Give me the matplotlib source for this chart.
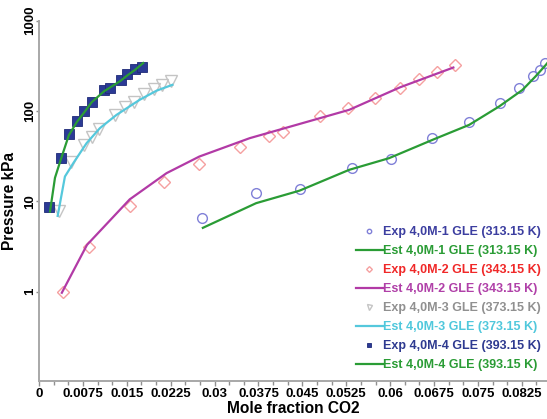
import matplotlib
matplotlib.use("Agg")
import matplotlib.pyplot as plt
from matplotlib.ticker import MultipleLocator, FixedLocator

plt.rcParams['font.family'] = ['Liberation Sans', 'DejaVu Sans']
plt.rcParams['font.weight'] = 'bold'

# experimental points, 4,0M GLE
x_exp1 = [0.0278, 0.0371, 0.0446, 0.0534, 0.0601, 0.0671, 0.0734, 0.0787, 0.0820, 0.0844, 0.0856, 0.0864]
p_exp1 = [6.55, 12.5, 13.7, 23.6, 29.3, 50.0, 76.3, 124, 179, 242, 285, 344]

x_exp2 = [0.00404, 0.00852, 0.0155, 0.02136, 0.0273, 0.03426, 0.03938, 0.04164, 0.0480,
          0.05273, 0.05744, 0.0617, 0.06494, 0.06807, 0.07103]
p_exp2 = [1.0, 3.15, 8.9, 16.5, 25.8, 40.3, 53.0, 59.1, 88.9, 107, 141, 179, 225, 273, 324]

x_exp3 = [0.00341, 0.0054, 0.00772, 0.00909, 0.01028, 0.0130, 0.01466, 0.01624, 0.01795,
          0.0196, 0.0211, 0.0226]
p_exp3 = [7.89, 27.1, 41.8, 51.3, 62.9, 90.5, 112, 127, 155, 174, 195, 214]

x_exp4 = [0.00176, 0.00375, 0.00511, 0.00653, 0.00767, 0.00903, 0.01113, 0.0121, 0.01393,
          0.01512, 0.01636, 0.01761]
p_exp4 = [8.6, 30.0, 55.8, 78.3, 100, 127, 171, 179, 221, 258, 290, 310]

# estimated curves
x_est1 = [0.0280, 0.0371, 0.0445, 0.0530, 0.0598, 0.0675, 0.0735, 0.0786, 0.0826, 0.0848, 0.0866, 0.0880]
p_est1 = [5.08, 9.53, 13.1, 22.3, 30.0, 48.7, 70.2, 112, 171, 240, 324, 420]

x_est2 = [0.0039, 0.0082, 0.0155, 0.0218, 0.0274, 0.0360, 0.0530, 0.0617, 0.0708]
p_est2 = [0.97, 3.29, 10.5, 20.5, 31.3, 50.0, 103, 183, 303]

x_est3 = [0.00319, 0.00443, 0.00585, 0.00813, 0.0104, 0.01324, 0.0172, 0.0201, 0.0228]
p_est3 = [6.89, 18.8, 26.4, 44.0, 64.5, 90.5, 133, 168, 195]

x_est4 = [0.00188, 0.00273, 0.0038, 0.0051, 0.0065, 0.0077, 0.0090, 0.0111, 0.0139, 0.0151, 0.0164, 0.0178]
p_est4 = [7.69, 18.2, 30.0, 54.0, 76.0, 96.0, 125, 165, 215, 248, 285, 340]

x_ticks = [0, 0.0075, 0.015, 0.0225, 0.03, 0.0375, 0.045, 0.0525, 0.06, 0.0675, 0.075, 0.0825]
x_labels = ['0', '0.0075', '0.015', '0.0225', '0.03', '0.0375', '0.045', '0.0525', '0.06',
            '0.0675', '0.075', '0.0825']
y_ticks = [1, 10, 100, 1000]
y_labels = ['1', '10', '100', '1000']

green = '#2a9c35'
magenta = '#b23aa6'
cyan = '#55c8dc'

fig = plt.figure(figsize=(5.47, 4.19), dpi=100)
ax = fig.add_axes([39 / 547, 1 - 380.7 / 419, 1 - 39 / 547, (380.7 - 20.7) / 419])

ax.plot(x_exp1, p_exp1, 'o', ms=7, mfc='none', mec='#8080d8', mew=1.0,
        label='Exp 4,0M-1 GLE (313.15 K)')
ax.plot(x_est1, p_est1, '-', color=green, lw=1.6, label='Est 4,0M-1 GLE (313.15 K)')
ax.plot(x_exp2, p_exp2, 'D', ms=6.5, mfc='none', mec='#f5a0a0', mew=1.0,
        label='Exp 4,0M-2 GLE (343.15 K)')
ax.plot(x_est2, p_est2, '-', color=magenta, lw=1.6, label='Est 4,0M-2 GLE (343.15 K)')
ax.plot(x_exp3, p_exp3, 'v', ms=8, mfc='none', mec='#c4c4c4', mew=1.0,
        label='Exp 4,0M-3 GLE (373.15 K)')
ax.plot(x_est3, p_est3, '-', color=cyan, lw=1.6, label='Est 4,0M-3 GLE (373.15 K)')
ax.plot(x_exp4, p_exp4, 's', ms=7.5, mfc='#2b3a95', mec='#1e2a78', mew=0.6,
        label='Exp 4,0M-4 GLE (393.15 K)')
ax.plot(x_est4, p_est4, '-', color=green, lw=1.6, label='Est 4,0M-4 GLE (393.15 K)')

ax.set_yscale('log')
ax.set_xlim(0, 0.0868)
ax.set_ylim(0.103, 1000)

ax.xaxis.set_major_locator(FixedLocator(x_ticks))
ax.set_xticklabels(x_labels)
ax.xaxis.set_minor_locator(MultipleLocator(0.0025))
ax.yaxis.set_major_locator(FixedLocator(y_ticks))
ax.set_yticklabels(y_labels, rotation=90, va='center')
ax.yaxis.set_minor_locator(FixedLocator([]))

for side in ['top', 'right']:
    ax.spines[side].set_visible(False)
for side in ['left', 'bottom']:
    ax.spines[side].set_color('#a8a8a8')
    ax.spines[side].set_linewidth(1.4)

ax.tick_params(axis='both', which='both', color='#909090', labelsize=9.5)
ax.tick_params(axis='x', which='major', length=3.5, width=1, pad=1.5)
ax.tick_params(axis='x', which='minor', length=3, width=1)
ax.tick_params(axis='y', which='major', length=2.5, width=1, pad=-0.5)
for t in ax.get_xticklabels() + ax.get_yticklabels():
    t.set_fontweight('bold')

ax.set_xlabel('Mole fraction CO2', fontsize=11.2, fontweight='bold', labelpad=1)
ax.set_ylabel('Pressure kPa', fontsize=11.2, fontweight='bold')
ax.yaxis.set_label_coords(-0.043, 0.5)

leg = ax.legend(loc='upper right', bbox_to_anchor=(541 / 547, 1 - 226 / 419),
                bbox_transform=fig.transFigure, frameon=False,
                prop={'weight': 'bold', 'size': 9}, markerscale=0.45,
                handlelength=2.15, handletextpad=0.05, labelspacing=0.56,
                borderpad=0, borderaxespad=0)
text_colors = ['#3c3ea0', green, '#f02828', '#b040a8', '#909090', '#50c8dc', '#2e3a90', green]
for t, c in zip(leg.get_texts(), text_colors):
    t.set_color(c)

fig.savefig('out.png', dpi=100)
